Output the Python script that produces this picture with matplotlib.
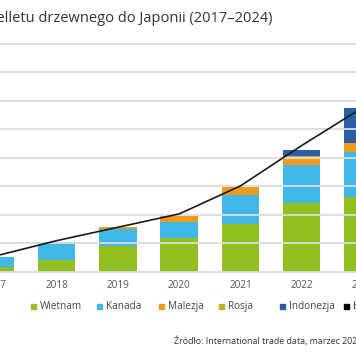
import matplotlib
matplotlib.use("Agg")
import matplotlib.pyplot as plt
from matplotlib.patches import Rectangle
import numpy as np

plt.rcParams['font.family'] = ['Open Sans', 'DejaVu Sans']

# import pelletu drzewnego do Japonii, tys. ton (odczyt z wykresu)
years = ['2017', '2018', '2019', '2020', '2021', '2022', '2023']
wietnam = [169, 405, 908, 1169, 1673, 2400, 2610]
kanada = [352, 623, 577, 585, 1020, 1350, 1606]
malezja = [0, 0, 40, 210, 260, 236, 296]
rosja = [0, 0, 30, 0, 30, 60, 0]
indonezja = [0, 0, 0, 0, 0, 236, 1250]
lacznie = [545, 1085, 1556, 2025, 3010, 4430, 5770]

series = [('Wietnam', wietnam, '#92c020'),
          ('Kanada', kanada, '#41b8e8'),
          ('Malezja', malezja, '#f29a1c'),
          ('Rosja', rosja, '#cfaa2a'),
          ('Indonezja', indonezja, '#2c5ea8')]

W, H = 356, 364
fig = plt.figure(figsize=(W / 100, H / 100), dpi=100)

# os wychodzi poza kadr (wykres jest wycinkiem wiekszej grafiki)
step = 61.25
x0 = -4.55
left_px, right_px = -40, 400
base_px, top_px = 271.5, 32.6
ax = fig.add_axes([left_px / W, (H - base_px) / H,
                   (right_px - left_px) / W, (base_px - top_px) / H])
ax.set_xlim((left_px - x0) / step, (right_px - x0) / step)
ax.set_ylim(0, 8400)

x = np.arange(len(years))
bottom = np.zeros(len(years))
for name, vals, col in series:
    ax.bar(x, vals, 0.612, bottom=bottom, color=col, zorder=1)
    bottom += np.array(vals)

ax.plot(x, lacznie, color='#1a1a1a', lw=1.2, zorder=4)

ax.set_yticks(range(1000, 8001, 1000))
ax.set_axisbelow(False)
ax.grid(axis='y', color='#dcdcdc', lw=1.3)
ax.tick_params(axis='y', left=False, labelleft=False)
ax.tick_params(axis='x', length=0, pad=6, labelsize=7.2, labelcolor='#555555')
ax.set_xticks(x)
ax.set_xticklabels(years)
for s in ['top', 'left', 'right']:
    ax.spines[s].set_visible(False)
ax.spines['bottom'].set_color('#d9d9d9')
ax.spines['bottom'].set_linewidth(1.3)

fig.text(272.7 / W, 1 - 18 / H, 'Import pelletu drzewnego do Japonii (2017–2024)',
         ha='right', va='center', fontsize=10.5, color='#333333')

# legenda - recznie, zeby trafic w pozycje z oryginalu
leg_names = [n for n, _, _ in series] + ['Łącznie']
leg_colors = [c for _, _, c in series] + ['#000000']
leg_x = [33, 99.3, 161.3, 221.7, 282.7, 346.7]
leg_y = 306.5
sq = 5
for name, col, lx in zip(leg_names, leg_colors, leg_x):
    fig.patches.append(Rectangle(((lx - sq / 2) / W, 1 - (leg_y + sq / 2) / H),
                                 sq / W, sq / H, color=col,
                                 transform=fig.transFigure, figure=fig))
    fig.text((lx + 6.5) / W, 1 - leg_y / H, name, ha='left', va='center',
             fontsize=7.2, color='#444444')

fig.text(174 / W, 1 - 341 / H, 'Źródło: International trade data, marzec 2025',
         ha='left', va='center', fontsize=6.4, color='#333333')

fig.savefig('out.png', dpi=100)
